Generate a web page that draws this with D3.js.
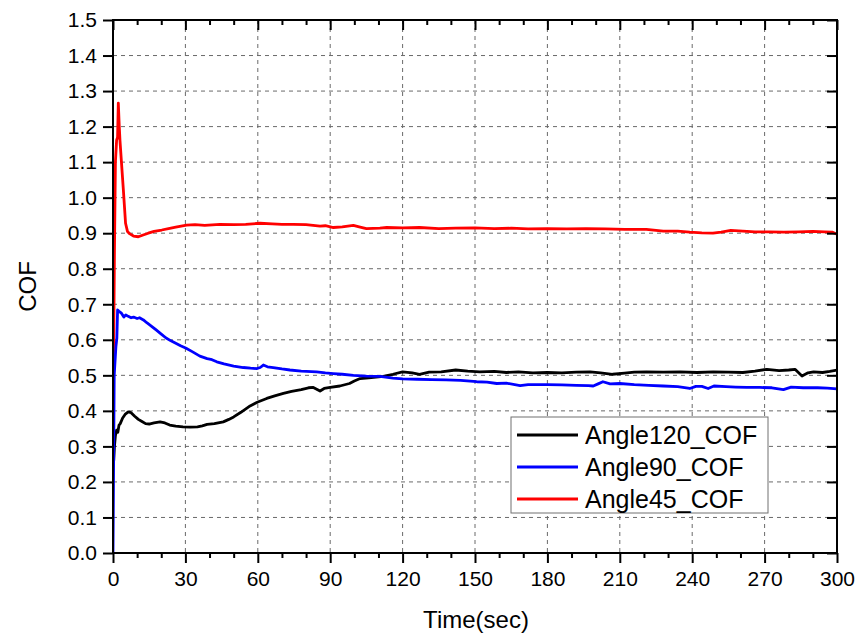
<!DOCTYPE html>
<html>
<head>
<meta charset="utf-8">
<script src="https://cdn.jsdelivr.net/npm/d3@7"></script>
<style>
  html, body { margin: 0; padding: 0; background: #fff; }
  svg { display: block; font-family: "Liberation Sans", Arial, sans-serif; }
</style>
</head>
<body>
<svg id="chart" width="858" height="639"></svg>
<script>
// ---- data ----
const xTicks = [0, 30, 60, 90, 120, 150, 180, 210, 240, 270, 300];
const yTicks = [0.0, 0.1, 0.2, 0.3, 0.4, 0.5, 0.6, 0.7, 0.8, 0.9, 1.0, 1.1, 1.2, 1.3, 1.4, 1.5];
const seriesNames = ["Angle120_COF", "Angle90_COF", "Angle45_COF"];

const a120Time = [0.3,0.6,1.0,1.5,2.0,2.5,3.0,4.0,5.0,6.3,7.5,9,10.5,12,13.5,15,17,19.5,21.5,23.5,26,29,32,35,37,39,42,45.7,48,50,53,56.8,60,63.7,67,70.6,74,78,81,83,85.8,87.5,90,94,98,100,102.4,106,112,116,120,124,127,131,136,142,147,152,158,163,168,174,180,186,192,197.7,202,207,212,216,221,228,235,242,248.7,255,261,266,271,276,280,282.6,285.5,288,290.3,294,297,300];
const a120COF  = [0.26,0.30,0.33,0.346,0.34,0.36,0.364,0.38,0.39,0.397,0.395,0.385,0.376,0.37,0.364,0.363,0.366,0.369,0.366,0.36,0.357,0.355,0.354,0.355,0.358,0.362,0.364,0.369,0.376,0.383,0.396,0.414,0.425,0.435,0.442,0.449,0.455,0.46,0.465,0.466,0.456,0.463,0.466,0.47,0.477,0.484,0.491,0.493,0.497,0.503,0.51,0.507,0.503,0.509,0.51,0.515,0.512,0.51,0.511,0.508,0.51,0.507,0.508,0.507,0.509,0.51,0.507,0.503,0.506,0.509,0.51,0.509,0.51,0.508,0.51,0.509,0.508,0.512,0.517,0.513,0.515,0.517,0.498,0.507,0.51,0.508,0.511,0.515];

const a90Time = [0,0.5,1.2,1.6,1.9,2.5,3.5,4.5,5.3,6.3,7.5,8.5,10,11,12.6,14,16,18,20,22,24,26,28,30.3,33,36,39,41,43,46,50,54,57,59.5,61,62.3,64,66.4,70,73.3,78,84.4,88,91.3,95,99.6,105,110.6,116,120,126,132,138,144,150.7,155,159,163,168.7,172,176,180,186,192,197,199,201,203,206,210,216,222,228,234,239,241.5,244,246.6,249,254,258,262.6,268,273,277.8,281,286,292,296,300];
const a90COF  = [0,0.5,0.58,0.605,0.684,0.68,0.675,0.664,0.67,0.666,0.662,0.664,0.66,0.662,0.656,0.648,0.638,0.627,0.616,0.605,0.597,0.59,0.583,0.576,0.566,0.554,0.547,0.544,0.538,0.532,0.526,0.522,0.52,0.519,0.522,0.529,0.524,0.522,0.518,0.515,0.512,0.51,0.507,0.505,0.503,0.5,0.498,0.497,0.492,0.49,0.489,0.488,0.487,0.486,0.482,0.481,0.477,0.478,0.471,0.474,0.474,0.474,0.473,0.472,0.471,0.47,0.476,0.482,0.476,0.477,0.474,0.472,0.47,0.468,0.463,0.469,0.469,0.463,0.47,0.468,0.467,0.466,0.466,0.465,0.46,0.467,0.465,0.465,0.464,0.462];

const a45Time = [0.2,0.6,1.0,1.5,1.9,2.2,2.6,2.9,3.6,4.3,5.2,6,7,8.5,10.5,12.5,14.6,17,20.2,23,26,30.5,34,38,44.3,50,55,60.9,66,70,74.7,80,85.8,88,91.3,95,99.6,102,105,110.6,113.4,120,127,135,142,150,158,165,172,180,188,196,204,212,221,228,234,239,244,248.6,252,256,261,266,272,278,284,290,295,298,300];
const a45COF  = [0.52,0.85,1.10,1.162,1.17,1.266,1.2,1.16,1.09,1.021,0.928,0.905,0.898,0.892,0.89,0.895,0.9,0.905,0.909,0.913,0.917,0.923,0.924,0.922,0.925,0.924,0.925,0.928,0.926,0.925,0.925,0.924,0.92,0.921,0.916,0.918,0.922,0.918,0.913,0.914,0.916,0.915,0.916,0.913,0.914,0.915,0.913,0.914,0.912,0.913,0.912,0.913,0.912,0.911,0.911,0.906,0.906,0.903,0.901,0.9,0.903,0.908,0.906,0.904,0.904,0.903,0.904,0.905,0.904,0.903,0.897];

const seriesColors = ["#000000", "#0000ff", "#ff0000"];

// ---- layout ----
const svg = d3.select("#chart");
const L = 113, R = 837, T = 20, B = 553;

const xScale = d3.scaleLinear().domain([0, 300]).range([L, R]);
const yScale = d3.scaleLinear().domain([0, 1.5]).range([B, T]);

// grid
const grid = svg.append("g");
grid.selectAll("line.gx").data(xTicks.slice(1, -1)).enter().append("line")
  .attr("x1", d => xScale(d)).attr("x2", d => xScale(d)).attr("y1", T).attr("y2", B)
  .attr("stroke", "#6a6a6a").attr("stroke-width", 1).attr("stroke-dasharray", "4,4");
grid.selectAll("line.gy").data(yTicks.slice(1, -1)).enter().append("line")
  .attr("y1", d => yScale(d)).attr("y2", d => yScale(d)).attr("x1", L).attr("x2", R)
  .attr("stroke", "#6a6a6a").attr("stroke-width", 1).attr("stroke-dasharray", "4,4");

// clip
svg.append("defs").append("clipPath").attr("id", "clip")
  .append("rect").attr("x", L).attr("y", T).attr("width", R - L).attr("height", B - T);

const lineGen = d3.line().x(d => xScale(d[0])).y(d => yScale(d[1]));
const zip = (a, b) => a.map((v, i) => [v, b[i]]);
const seriesData = [zip(a120Time, a120COF), zip(a90Time, a90COF), zip(a45Time, a45COF)];

const plot = svg.append("g").attr("clip-path", "url(#clip)");
[0, 2, 1].forEach(i => {
  plot.append("path").datum(seriesData[i])
    .attr("d", lineGen).attr("fill", "none")
    .attr("stroke", seriesColors[i]).attr("stroke-width", 2.8)
    .attr("stroke-linejoin", "round");
});

// axes
const minorX = d3.range(0, 301, 10).filter(v => v % 30 !== 0);
const fmtY = d3.format(".1f");

function styleAxis(g) {
  g.selectAll(".domain").remove();
  g.selectAll(".tick line").attr("stroke", "#000").attr("stroke-width", 2);
  g.selectAll(".tick text").attr("fill", "#000").attr("font-size", "21px")
    .attr("font-family", "'Liberation Sans', Arial, sans-serif");
}

svg.append("g").attr("transform", `translate(0,${B})`)
  .call(d3.axisBottom(xScale).tickValues(xTicks).tickSize(10).tickPadding(8).tickFormat(d3.format("d")))
  .call(styleAxis);
svg.append("g").attr("transform", `translate(0,${B})`)
  .call(d3.axisBottom(xScale).tickValues(minorX).tickSize(5).tickFormat(""))
  .call(styleAxis);

svg.append("g").attr("transform", `translate(0,${T})`)
  .call(d3.axisBottom(xScale).tickValues(xTicks).tickSize(10).tickFormat(""))
  .call(styleAxis);
svg.append("g").attr("transform", `translate(0,${T})`)
  .call(d3.axisBottom(xScale).tickValues(minorX).tickSize(5).tickFormat(""))
  .call(styleAxis);

svg.append("g").attr("transform", `translate(${L},0)`)
  .call(d3.axisLeft(yScale).tickValues(yTicks).tickSize(10).tickPadding(6).tickFormat(fmtY))
  .call(styleAxis);

svg.append("g").attr("transform", `translate(${R},0)`)
  .call(d3.axisLeft(yScale).tickValues(yTicks).tickSize(10).tickFormat(""))
  .call(styleAxis);

// frame
svg.append("rect").attr("x", L).attr("y", T).attr("width", R - L).attr("height", B - T)
  .attr("fill", "none").attr("stroke", "#000").attr("stroke-width", 2);

// axis titles
svg.append("text").attr("x", 476).attr("y", 628).attr("text-anchor", "middle")
  .attr("font-size", "24px").attr("fill", "#000").text("Time(sec)");
svg.append("text").attr("transform", `translate(36,${(T + B) / 2}) rotate(-90)`)
  .attr("text-anchor", "middle").attr("font-size", "24px").attr("fill", "#000").text("COF");

// legend
const lg = svg.append("g");
lg.append("rect").attr("x", 511).attr("y", 417).attr("width", 257).attr("height", 96)
  .attr("fill", "#fff").attr("stroke", "#707070").attr("stroke-width", 1);
const rowY = [435, 467, 499];
seriesNames.forEach((name, i) => {
  lg.append("line").attr("x1", 517).attr("x2", 578).attr("y1", rowY[i]).attr("y2", rowY[i])
    .attr("stroke", seriesColors[i]).attr("stroke-width", 2.8);
  lg.append("text").attr("x", 585).attr("y", rowY[i]).attr("dy", "0.35em")
    .attr("font-size", "25px").attr("fill", "#000").text(name);
});
</script>
</body>
</html>
